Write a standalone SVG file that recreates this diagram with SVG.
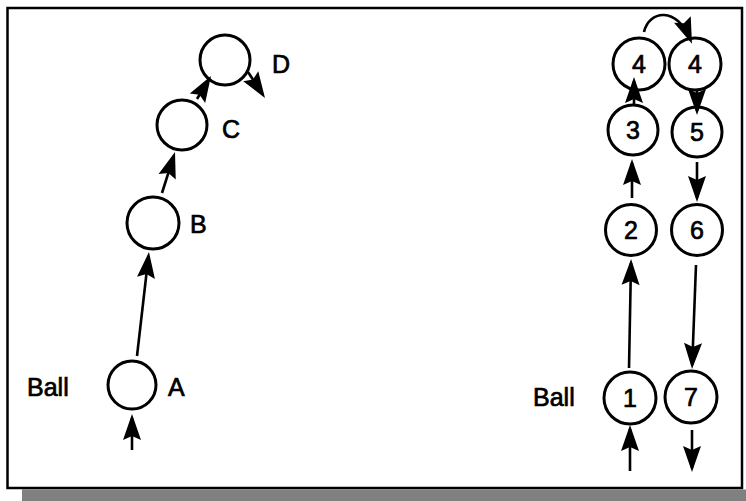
<svg xmlns="http://www.w3.org/2000/svg" width="746" height="501" viewBox="0 0 746 501">
  <style>
    .node circle { fill: #ffffff; stroke: #000000; stroke-width: 3; }
    .lbl { font-family: "Liberation Sans", Arial, sans-serif; font-size: 25px; fill: #000000; stroke: #000000; stroke-width: 0.7; }
    .num { font-family: "Liberation Sans", Arial, sans-serif; font-size: 25px; fill: #000000; stroke: #000000; stroke-width: 0.7; text-anchor: middle; }
    .conn { stroke: #000000; stroke-width: 2.6; fill: none; marker-end: url(#arr); }
  </style>
  <defs>
    <marker id="arr" markerUnits="userSpaceOnUse" viewBox="-26 -10 32 20" refX="0" refY="0" markerWidth="32" markerHeight="20" orient="auto">
      <path d="M4,0 L-22,-9 L-18,0 L-22,9 Z" fill="#000000"/>
    </marker>
  </defs>
  <rect x="0" y="0" width="746" height="501" fill="#ffffff"/>
  <rect x="22" y="489.5" width="724" height="11.5" fill="#808080"/>
  <rect x="7.5" y="8" width="734.5" height="480" fill="#ffffff" stroke="#000000" stroke-width="2.5"/>

  <g id="node-A" class="node"><circle cx="132" cy="385" r="24"/><text class="lbl" x="168" y="396">A</text></g>
  <g id="node-B" class="node"><circle cx="153" cy="223" r="26"/><text class="lbl" x="190" y="233">B</text></g>
  <g id="node-C" class="node"><circle cx="182" cy="125" r="25"/><text class="lbl" x="222" y="138">C</text></g>
  <g id="node-D" class="node"><circle cx="225" cy="60" r="25"/><text class="lbl" x="272" y="73">D</text></g>
  <g id="label-ball-left"><text class="lbl" x="27" y="396">Ball</text></g>

  <g id="node-4a" class="node"><circle cx="639" cy="64" r="26"/><text class="num" x="639" y="73">4</text></g>
  <g id="node-4b" class="node"><circle cx="695" cy="64" r="26"/><text class="num" x="695" y="73">4</text></g>
  <g id="node-3" class="node"><circle cx="633" cy="130" r="25"/><text class="num" x="633" y="139">3</text></g>
  <g id="node-5" class="node"><circle cx="697" cy="132" r="25"/><text class="num" x="697" y="141">5</text></g>
  <g id="node-2" class="node"><circle cx="631" cy="230" r="25.5"/><text class="num" x="631" y="239">2</text></g>
  <g id="node-6" class="node"><circle cx="697" cy="230" r="25.5"/><text class="num" x="697" y="239">6</text></g>
  <g id="node-1" class="node"><circle cx="630" cy="398" r="26"/><text class="num" x="630" y="407">1</text></g>
  <g id="node-7" class="node"><circle cx="691" cy="397" r="26"/><text class="num" x="691" y="406">7</text></g>
  <g id="label-ball-right"><text class="lbl" x="533" y="406">Ball</text></g>

  <g id="connectors">
    <line class="conn" x1="132" y1="450" x2="132" y2="418"/>
    <line class="conn" x1="137" y1="356" x2="148.5" y2="256"/>
    <line class="conn" x1="162" y1="193" x2="173.8" y2="155.8"/>
    <line class="conn" x1="197" y1="99" x2="208.9" y2="79.4"/>
    <line class="conn" x1="248" y1="72" x2="262.8" y2="94.6"/>

    <line class="conn" x1="630" y1="471" x2="630" y2="429"/>
    <line class="conn" x1="629" y1="368" x2="631" y2="263"/>
    <line class="conn" x1="632" y1="198" x2="632" y2="163"/>
    <line class="conn" x1="634" y1="104" x2="634" y2="81"/>
    <path class="conn" d="M 644 32 C 649 10, 677 6, 690.5 40"/>
    <line class="conn" x1="697" y1="90" x2="697" y2="111"/>
    <line class="conn" x1="697" y1="162" x2="697" y2="198"/>
    <line class="conn" x1="696" y1="265" x2="692.2" y2="365"/>
    <line class="conn" x1="692" y1="430" x2="692" y2="468"/>
  </g>
</svg>
